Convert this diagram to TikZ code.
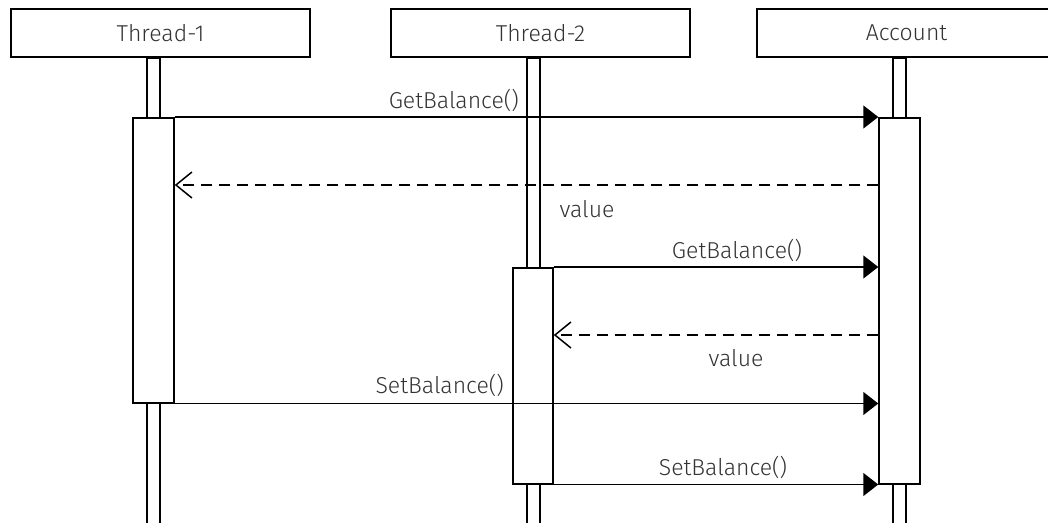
\documentclass[tikz,border=0pt]{standalone}
\usepackage{fontspec}
\setmainfont{Fira Sans}[UprightFont=* Light]
\usetikzlibrary{arrows.meta,positioning,calc}
\definecolor{sqink} {HTML}{000000}
\definecolor{sqtext}{HTML}{333333}
\tikzset{
  sqhead/.style={draw=sqink, fill=white, line width=1.5pt, minimum width=299pt,
                 minimum height=48pt, inner sep=0pt,
                 font=\fontsize{23}{26}\selectfont, text=sqtext},
  sqlife/.style={draw=sqink, fill=white, line width=1.5pt, minimum width=13pt,
                 inner sep=0pt, anchor=north},
  sqact/.style={draw=sqink, fill=white, line width=1.5pt, minimum width=41pt,
                inner sep=0pt, anchor=north},
  sqcall/.style={-{Triangle[length=15pt,width=23pt]}, draw=sqink, line width=1.5pt},
  sqreply/.style={-{Straight Barb[length=16pt,width=26pt,line width=1.5pt]},
                  draw=sqink, line width=1.5pt, dash pattern=on 11pt off 7pt},
  sqlabel/.style={font=\fontsize{23}{26}\selectfont, text=sqtext, inner sep=0pt},
}
\begin{document}
\begin{tikzpicture}[x=1pt,y=-1pt]
  \useasboundingbox (0,0) rectangle (1048,522);
  \clip (0,0) rectangle (1048,522);

  % lifelines
  \node[sqlife, minimum height=470pt] (t1life)  at (153.5,57) {};
  \node[sqlife, minimum height=470pt] (t2life)  at (533.5,57) {};
  \node[sqlife, minimum height=470pt] (acclife) at (899.5,57) {};

  \node[sqhead] (t1)  at (160.5,33) {Thread-1};
  \node[sqhead] (t2)  at (540.5,33) {Thread-2};
  \node[sqhead] (acc) at (906.5,33) {Account};

  % activations
  \node[sqact, minimum height=285pt] (t1act)  at (153.5,117) {};
  \node[sqact, minimum height=216pt, minimum width=40pt] (t2act) at (533,267) {};
  \node[sqact, minimum height=366pt] (accact) at (899.5,117) {};

  \coordinate (m2) at (0,185);
  \coordinate (m4) at (0,335);

  \draw[sqcall]  (t1act.north east) -- (accact.north west);
  \draw[sqreply] (accact.west |- m2) -- (t1act.east |- m2);
  \draw[sqcall]  (t2act.north east) -- (accact.west |- t2act.north);
  \draw[sqreply] (accact.west |- m4) -- (t2act.east |- m4);
  \draw[sqcall]  (t1act.south east) -- (accact.west |- t1act.south);
  \draw[sqcall]  (t2act.south east) -- (accact.west |- t2act.south);

  \node[sqlabel, anchor=base east] (l1) at (519,108) {GetBalance()};
  \node[sqlabel, anchor=base] (l2) at (587,217) {value};
  \node[sqlabel, anchor=base] (l3) at (737,258) {GetBalance()};
  \node[sqlabel, anchor=base] (l4) at (736,366) {value};
  \node[sqlabel, anchor=base east] (l5) at (504,393) {SetBalance()};
  \node[sqlabel, anchor=base] (l6) at (723,475) {SetBalance()};
\end{tikzpicture}
\end{document}
